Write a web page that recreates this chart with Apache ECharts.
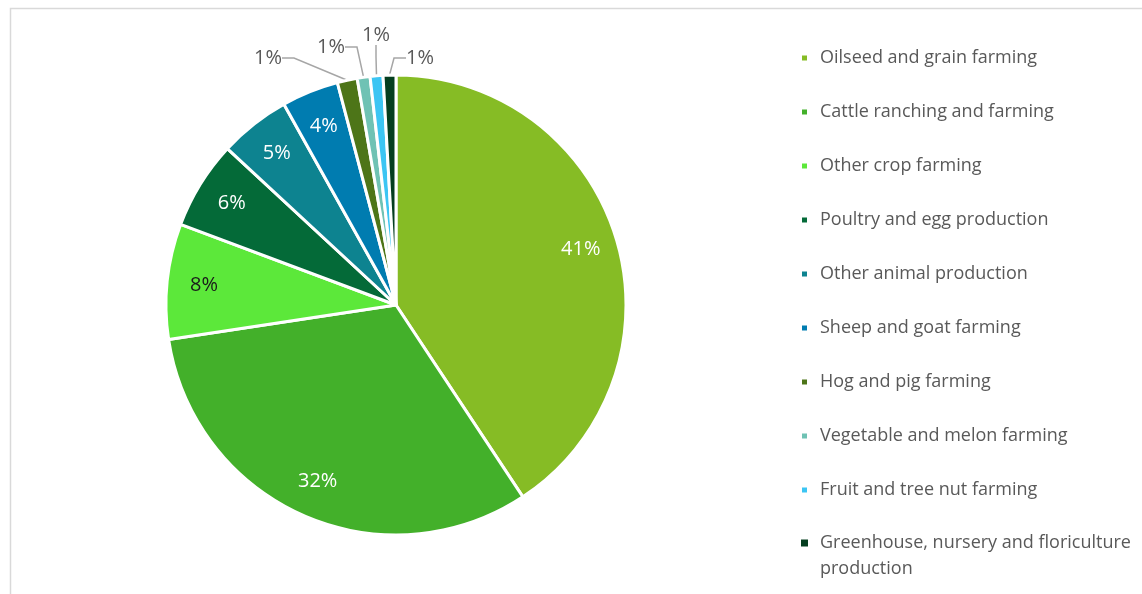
<!DOCTYPE html>
<html>
<head>
<meta charset="utf-8">
<script src="https://cdn.jsdelivr.net/npm/echarts@6/dist/echarts.min.js"></script>
<style>
html,body{margin:0;padding:0;background:#fff;}
#chart{width:1142px;height:594px;}
</style>
</head>
<body>
<div id="chart"></div>
<script>
const categories = [
  "Oilseed and grain farming",
  "Cattle ranching and farming",
  "Other crop farming",
  "Poultry and egg production",
  "Other animal production",
  "Sheep and goat farming",
  "Hog and pig farming",
  "Vegetable and melon farming",
  "Fruit and tree nut farming",
  "Greenhouse, nursery and floriculture production"
];
const shares = [40.7, 31.9, 8.1, 6.2, 5.0, 4.0, 1.4, 0.9, 0.9, 0.9];
const colors = ["#86bc25", "#43b02a", "#5ce83a", "#046a38", "#0d8390", "#007cb0", "#4d7518", "#6fc2b4", "#3cc5f3", "#043e1f"];
const innerLabelColors = ["#ffffff", "#ffffff", "#1a1a1a", "#ffffff", "#ffffff", "#ffffff"];

const FONT = "'Open Sans', sans-serif";
const pct = v => Math.round(v) + "%";

// positions for outside labels of the thin slices (by data index)
const outsideLabelPos = {6: [268, 58], 7: [331, 47], 8: [376, 35], 9: [420, 58]};

const mainData = categories.map((name, i) => ({
  name: name,
  value: shares[i],
  itemStyle: {color: colors[i]},
  label: {show: shares[i] < 2},
  labelLine: {show: shares[i] < 2}
}));

const labelData = categories.map((name, i) => ({
  name: name,
  value: shares[i],
  label: {show: shares[i] >= 2, color: innerLabelColors[i] || "#ffffff"}
}));

const legendText = {
  fontFamily: FONT,
  fontSize: 18,
  color: "#595959",
  lineHeight: 26
};
const nFirst = categories.length - 1;
const lastColor = colors[nFirst];

// wrap a long legend name at the last space that keeps the first line short enough
function wrapName(name, maxChars) {
  if (name.length <= maxChars) return [name];
  const cut = name.lastIndexOf(" ", maxChars);
  return [name.slice(0, cut), name.slice(cut + 1)];
}

const chart = echarts.init(document.getElementById("chart"), null, {renderer: "canvas"});
chart.setOption({
  animation: false,
  graphic: [{
    type: "rect",
    silent: true,
    shape: {x: 10.5, y: 8.5, width: 1300, height: 800},
    style: {fill: "none", stroke: "#d9d9d9", lineWidth: 1.5}
  }],
  legend: [{
    orient: "vertical",
    left: 800,
    top: 45,
    padding: 0,
    icon: "rect",
    itemWidth: 7,
    itemHeight: 7,
    itemGap: 28,
    data: categories.slice(0, nFirst),
    textStyle: Object.assign({padding: [0, 0, 0, 7]}, legendText)
  }, {
    orient: "vertical",
    left: 795,
    top: 530,
    padding: 0,
    icon: "rect",
    itemWidth: 0,
    itemHeight: 7,
    data: categories.slice(nFirst),
    formatter: function (name) {
      const lines = wrapName(name, 36);
      return "{m|}{g|}{t|" + lines[0] + "}" +
        (lines[1] ? "\n{s|}{t|" + lines[1] + "}" : "");
    },
    textStyle: Object.assign({}, legendText, {
      rich: {
        m: {width: 7, height: 7, backgroundColor: lastColor, verticalAlign: "middle"},
        g: {width: 12},
        s: {width: 19},
        t: Object.assign({}, legendText)
      }
    })
  }],
  series: [{
    type: "pie",
    name: "main",
    center: [396, 305],
    radius: [0, 230],
    startAngle: 90,
    clockwise: true,
    avoidLabelOverlap: false,
    itemStyle: {borderColor: "#ffffff", borderWidth: 3},
    label: {
      position: "outside",
      fontFamily: FONT,
      fontSize: 20,
      color: "#595959",
      formatter: p => pct(p.value)
    },
    labelLine: {
      length: 12,
      length2: 12,
      lineStyle: {color: "#a6a6a6", width: 1.5}
    },
    labelLayout: function (params) {
      const pos = outsideLabelPos[params.dataIndex];
      if (!pos) return {};
      return {x: pos[0], y: pos[1], align: "center", verticalAlign: "middle"};
    },
    emphasis: {disabled: true},
    data: mainData
  }, {
    type: "pie",
    name: "labels",
    center: [396, 305],
    radius: [150, 230],
    startAngle: 90,
    clockwise: true,
    silent: true,
    legendHoverLink: false,
    itemStyle: {color: "rgba(0,0,0,0)", borderWidth: 0},
    label: {
      position: "inside",
      fontFamily: FONT,
      fontSize: 20,
      formatter: p => pct(p.value)
    },
    labelLine: {show: false},
    emphasis: {disabled: true},
    data: labelData
  }]
});
</script>
</body>
</html>
